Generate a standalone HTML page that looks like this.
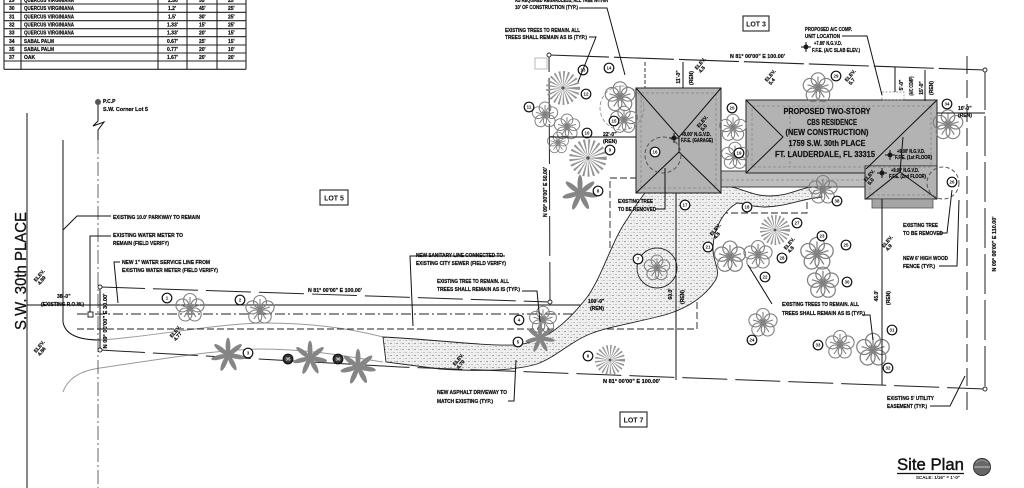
<!DOCTYPE html>
<html><head><meta charset="utf-8"><style>
html,body{margin:0;padding:0;background:#fff;width:1024px;height:488px;overflow:hidden}
svg{display:block}
.t{font-family:"Liberation Sans",sans-serif;font-weight:bold;font-size:5px;fill:#111;stroke:#111;stroke-width:0.22}
.tb{font-family:"Liberation Sans",sans-serif;font-weight:bold;font-size:8.5px;fill:#111;text-anchor:middle;stroke:#111;stroke-width:0.2}
.n{font-family:"Liberation Sans",sans-serif;font-weight:bold;font-size:4.4px;fill:#111;text-anchor:middle}
.nw{font-family:"Liberation Sans",sans-serif;font-weight:bold;font-size:4.4px;fill:#fff;text-anchor:middle}
.ln{stroke:#111;stroke-width:1;fill:none}
.gl{stroke:#999;stroke-width:1;fill:none}
</style></head><body>
<svg width="1024" height="488" viewBox="0 0 1024 488" xmlns="http://www.w3.org/2000/svg">
<defs>
<pattern id="st" width="6" height="6" patternUnits="userSpaceOnUse">
<rect width="6" height="6" fill="#f0f0f0"/>
<circle cx="1" cy="1.5" r="0.6" fill="#666"/>
<circle cx="4" cy="4.5" r="0.55" fill="#777"/>
<circle cx="4.6" cy="1.2" r="0.4" fill="#999"/>
<circle cx="1.8" cy="4.6" r="0.4" fill="#999"/>
</pattern>
<g id="oak" fill="none" stroke="#808080" stroke-width="1.1">
<circle cx="0" cy="-8" r="6.5"/><circle cx="7.6" cy="-2.6" r="6.5"/><circle cx="4.7" cy="6.5" r="6.5"/><circle cx="-4.7" cy="6.5" r="6.5"/><circle cx="-7.6" cy="-2.6" r="6.5"/>
<path d="M0,0L0,-11M0,0L10,-3M0,0L6,9M0,0L-6,9M0,0L-10,-3M-3,-4L3,4M3,-4L-3,4"/>
</g>
<g id="star">
<circle r="7.5" fill="none" stroke="#949494" stroke-width="15" stroke-dasharray="0.9 1.3"/>
<circle r="1.4" fill="#555"/>
</g>
<g id="palm" fill="#858585">
<ellipse cx="7.5" cy="0" rx="7.5" ry="2.1" transform="rotate(10)"/>
<ellipse cx="7.5" cy="0" rx="7.5" ry="2.1" transform="rotate(62)"/>
<ellipse cx="7.5" cy="0" rx="7.5" ry="2.1" transform="rotate(114)"/>
<ellipse cx="7.5" cy="0" rx="7.5" ry="2.1" transform="rotate(166)"/>
<ellipse cx="7.5" cy="0" rx="7.5" ry="2.1" transform="rotate(218)"/>
<ellipse cx="7.5" cy="0" rx="7.5" ry="2.1" transform="rotate(270)"/>
<ellipse cx="7.5" cy="0" rx="7.5" ry="2.1" transform="rotate(322)"/>
</g>
</defs>

<!-- TABLE -->
<g stroke="#222" stroke-width="1.1" fill="none">
<path d="M4,4H246M4,12.3H246M4,20.7H246M4,28.7H246M4,36.7H246M4,45H246M4,53H246M4,61H246M4,69.3H246"/>
<path d="M4,0V69.3M21,0V69.3M158,0V69.3M187,0V69.3M217,0V69.3M246,0V69.3"/>
</g>
<g class="t">
<text x="9" y="2">29</text><text x="24" y="2" textLength="50" lengthAdjust="spacingAndGlyphs">QUERCUS VIRGINIANA</text><text x="168" y="2">2.50'</text><text x="199" y="2">35'</text><text x="228" y="2">25'</text>
<text x="9" y="10">30</text><text x="24" y="10" textLength="50" lengthAdjust="spacingAndGlyphs">QUERCUS VIRGINIANA</text><text x="168" y="10">1.2'</text><text x="199" y="10">45'</text><text x="228" y="10">25'</text>
<text x="9" y="18.5">31</text><text x="24" y="18.5" textLength="50" lengthAdjust="spacingAndGlyphs">QUERCUS VIRGINIANA</text><text x="168" y="18.5">1.5'</text><text x="199" y="18.5">30'</text><text x="228" y="18.5">25'</text>
<text x="9" y="26.5">32</text><text x="24" y="26.5" textLength="50" lengthAdjust="spacingAndGlyphs">QUERCUS VIRGINIANA</text><text x="167" y="26.5">1.33'</text><text x="199" y="26.5">15'</text><text x="228" y="26.5">25'</text>
<text x="9" y="34.7">33</text><text x="24" y="34.7" textLength="50" lengthAdjust="spacingAndGlyphs">QUERCUS VIRGINIANA</text><text x="167" y="34.7">1.33'</text><text x="199" y="34.7">20'</text><text x="228" y="34.7">15'</text>
<text x="9" y="42.8">34</text><text x="24" y="42.8" textLength="30" lengthAdjust="spacingAndGlyphs">SABAL PALM</text><text x="167" y="42.8">0.67'</text><text x="199" y="42.8">25'</text><text x="228" y="42.8">15'</text>
<text x="9" y="51">35</text><text x="24" y="51" textLength="30" lengthAdjust="spacingAndGlyphs">SABAL PALM</text><text x="167" y="51">0.77'</text><text x="199" y="51">20'</text><text x="228" y="51">10'</text>
<text x="9" y="59">37</text><text x="24" y="59">OAK</text><text x="167" y="59">1.67'</text><text x="199" y="59">20'</text><text x="228" y="59">20'</text>
</g>

<!-- LEFT STREET -->
<text x="0" y="0" transform="translate(26,271) rotate(-90)" text-anchor="middle" font-family="Liberation Sans, sans-serif" font-size="15.5" fill="#111" stroke="#111" stroke-width="0.3" textLength="118" lengthAdjust="spacingAndGlyphs">S.W. 30th PLACE</text>
<path class="ln" d="M27,113V488"/>
<path class="ln" d="M63,140V322Q66,340 100,340"/>
<path class="gl" d="M100,340C150,337 220,323 265,323C320,323 360,331 383,337"/>
<path class="gl" d="M63,392Q70,372 100,368C150,361 210,350 260,349C310,349 350,357 383,362"/>
<path d="M98,140V488" stroke="#666" stroke-width="1" stroke-dasharray="14 3 2 3" fill="none"/>
<path class="ln" d="M98,104V121L93,126L104,122L98,130V140"/>
<circle cx="98" cy="102" r="3" fill="#555"/>
<text class="t" x="103" y="103">P.C.P</text>
<text class="t" x="103" y="111" textLength="45" lengthAdjust="spacingAndGlyphs">S.W. Corner Lot 5</text>

<!-- utility lines -->
<path class="ln" d="M27,305H643V291"/>
<path d="M77,314H610" stroke="#222" stroke-width="0.9" stroke-dasharray="10 3 2 3" fill="none"/>
<path d="M77,329H697V213H807V188" stroke="#222" stroke-width="0.9" stroke-dasharray="7 3" fill="none"/>
<path d="M637,178H610V313" stroke="#222" stroke-width="0.9" stroke-dasharray="7 3" fill="none"/>
<rect x="88" y="312" width="5" height="5" fill="#fff" stroke="#111" stroke-width="0.9"/>

<!-- DRIVEWAY -->
<path d="M383,337C430,339 480,346 515,345C545,343 568,322 588,296C604,272 612,240 628,218C634,208 640,199 645,193L721,193L721,186C740,186 750,196 770,196C790,196 800,187 820,186L822,197C800,199 790,206 765,207C750,207 744,203 737,203C725,210 714,226 713,247C712,262 722,270 715,281C705,296 690,307 668,314C640,322 610,326 590,334C570,342 556,357 537,364C510,372 470,371 440,369L386,362Z" fill="url(#st)" stroke="#222" stroke-width="0.9"/>

<!-- PROPERTY LINES -->
<path d="M100,287L550,302" stroke="#222" stroke-width="1" stroke-dasharray="45 8" fill="none"/>
<path d="M100,350L400,367L985,389" stroke="#222" stroke-width="1" stroke-dasharray="45 8" fill="none"/>
<path class="ln" d="M100,287V350"/>
<path d="M550,302L549,55" stroke="#222" stroke-width="1" stroke-dasharray="40 6" fill="none"/>
<path d="M549,55L985,70" stroke="#222" stroke-width="1.1" stroke-dasharray="60 5" fill="none"/>
<path d="M985,70V389" stroke="#222" stroke-width="1" stroke-dasharray="40 6" fill="none"/>
<path d="M967,56V412" stroke="#222" stroke-width="1" stroke-dasharray="18 6" fill="none"/>
<path d="M645,62V88" stroke="#222" stroke-width="0.9" stroke-dasharray="4 2" fill="none"/>
<g fill="#fff" stroke="#222" stroke-width="0.9">
<circle cx="100" cy="287" r="2"/><circle cx="100" cy="350" r="2"/><circle cx="550" cy="302" r="2"/><circle cx="549" cy="55" r="2"/><circle cx="985" cy="70" r="2"/><circle cx="985" cy="389" r="2"/>
</g>
<rect x="535" y="58" width="12" height="11" fill="#fff" stroke="#aaa" stroke-width="0.8"/>

<!-- BUILDINGS -->
<polygon points="699,187 714,171 866,171 866,187" fill="#bdbdbd" stroke="#444" stroke-width="1"/>
<path d="M716,180H862" stroke="#888" stroke-width="0.8" stroke-dasharray="3 2"/>
<rect x="636" y="88" width="85" height="105" fill="#b3b3b3" stroke="#333" stroke-width="1.1"/>
<rect x="641" y="93" width="75" height="95" fill="none" stroke="#888" stroke-width="0.8" stroke-dasharray="3 2"/>
<path class="ln" d="M636,88L679,137L721,88M636,193L679,152L721,193M679,137V152"/>
<rect x="746" y="100" width="191" height="73" fill="#b3b3b3" stroke="#333" stroke-width="1.1"/>
<rect x="865" y="166" width="72" height="33" fill="#b3b3b3" stroke="#333" stroke-width="1.1"/>
<path d="M866,167H936" stroke="#b3b3b3" stroke-width="1.6"/>
<rect x="872" y="199" width="61" height="9" fill="#a5a5a5" stroke="#555" stroke-width="0.8"/>
<rect x="752" y="106" width="179" height="61" fill="none" stroke="#888" stroke-width="0.8" stroke-dasharray="3 2"/>
<path d="M790,106V167" stroke="#888" stroke-width="0.8" stroke-dasharray="3 2"/>
<path d="M870,172V195H932" stroke="#888" stroke-width="0.8" stroke-dasharray="3 2" fill="none"/>
<path class="ln" d="M746,100L783,137L746,173M937,100L866,169M866,199L900,172L937,199M900,172L903,137"/>
<rect x="882" y="92" width="22" height="8" fill="none" stroke="#888" stroke-width="0.7" stroke-dasharray="2 1.5"/>

<text class="tb" x="827" y="114" textLength="87" lengthAdjust="spacingAndGlyphs">PROPOSED TWO-STORY</text>
<text class="tb" x="832" y="125" textLength="50" lengthAdjust="spacingAndGlyphs">CBS RESIDENCE</text>
<text class="tb" x="827" y="135" textLength="83" lengthAdjust="spacingAndGlyphs">(NEW CONSTRUCTION)</text>
<text class="tb" x="827" y="146" textLength="77" lengthAdjust="spacingAndGlyphs">1759 S.W. 30th PLACE</text>
<text class="tb" x="825" y="157" textLength="100" lengthAdjust="spacingAndGlyphs">FT. LAUDERDALE, FL 33315</text>

<!-- elevation symbols -->
<g fill="#222">
<circle cx="674" cy="138" r="2.5"/><circle cx="806" cy="47" r="2.5"/><circle cx="890" cy="155" r="2.5"/><circle cx="882" cy="173" r="2.5"/>
</g>
<path class="ln" d="M669,138H679M674,133V143M801,47H811M806,42V52M885,155H895M890,150V160M877,173H887M882,168V178"/>
<text class="t" x="681" y="136" textLength="30" lengthAdjust="spacingAndGlyphs">+8.00' N.G.V.D.</text>
<text class="t" x="681" y="142" textLength="32" lengthAdjust="spacingAndGlyphs">F.F.E. (GARAGE)</text>
<text class="t" x="814" y="45" textLength="28" lengthAdjust="spacingAndGlyphs">+7.80' N.G.V.D.</text>
<text class="t" x="812" y="52" textLength="48" lengthAdjust="spacingAndGlyphs">F.F.E. (A/C SLAB ELEV.)</text>
<text class="t" x="897" y="153" textLength="28" lengthAdjust="spacingAndGlyphs">+9.00' N.G.V.D.</text>
<text class="t" x="895" y="159" textLength="37" lengthAdjust="spacingAndGlyphs">F.F.E. (1st FLOOR)</text>
<text class="t" x="891" y="172" textLength="28" lengthAdjust="spacingAndGlyphs">+9.00' N.G.V.D.</text>
<text class="t" x="889" y="178" textLength="37" lengthAdjust="spacingAndGlyphs">F.F.E. (2nd FLOOR)</text>

<!-- TREES -->
<use href="#star" transform="translate(563,88) scale(1.13)"/>
<use href="#star" transform="translate(588,158) scale(1.25)"/>
<use href="#star" transform="translate(775,230) scale(1.0)"/>
<use href="#star" transform="translate(610,360) scale(1.0)"/>
<circle cx="622" cy="108" r="22" fill="none" stroke="#888" stroke-width="0.8" stroke-dasharray="4 2"/>
<use href="#oak" transform="translate(620,97) scale(1.05)"/>
<use href="#oak" transform="translate(624,120) scale(0.95)"/>
<use href="#oak" transform="translate(545,115) scale(0.9)"/>
<use href="#oak" transform="translate(567,127) scale(0.9)"/>
<use href="#oak" transform="translate(558,143) scale(0.75)"/>
<use href="#oak" transform="translate(733,128) scale(0.95)"/>
<use href="#oak" transform="translate(735,156) scale(0.95)"/>
<circle cx="663" cy="155" r="18" fill="none" stroke="#555" stroke-width="1" stroke-dasharray="4 2.5"/>
<use href="#oak" transform="translate(818,88) scale(1.05)"/>
<use href="#oak" transform="translate(948,125) scale(1.05)"/>
<circle cx="943" cy="183" r="16" fill="none" stroke="#555" stroke-width="1" stroke-dasharray="4 2.5"/>
<circle cx="657" cy="268" r="20" fill="none" stroke="#333" stroke-width="1"/>
<use href="#oak" transform="translate(657,268) scale(0.9)"/>
<use href="#oak" transform="translate(543,320) scale(0.95)"/>
<use href="#oak" transform="translate(190,308) scale(1.0)"/>
<use href="#oak" transform="translate(260,310) scale(1.0)"/>
<use href="#oak" transform="translate(730,257) scale(1.1)"/>
<use href="#oak" transform="translate(758,255) scale(1.0)"/>
<use href="#oak" transform="translate(817,254) scale(1.15)"/>
<use href="#oak" transform="translate(823,283) scale(1.1)"/>
<use href="#oak" transform="translate(763,323) scale(1.0)"/>
<use href="#oak" transform="translate(840,345) scale(1.0)"/>
<use href="#oak" transform="translate(873,350) scale(1.15)"/>
<use href="#oak" transform="translate(823,190) scale(1.0)"/>
<use href="#palm" transform="translate(580,193) scale(1.2)"/>
<use href="#palm" transform="translate(228,355) scale(1.15)"/>
<use href="#palm" transform="translate(310,358) scale(1.15)"/>
<use href="#palm" transform="translate(358,367) scale(1.2)"/>
<use href="#palm" transform="translate(540,338) scale(1.0)"/>

<!-- NUMBER CIRCLES -->
<g stroke="#111" stroke-width="1.2" fill="#fff">
<circle cx="167" cy="298" r="4.8"/><circle cx="240" cy="300" r="4.8"/><circle cx="248" cy="353" r="4.8"/>
<circle cx="519" cy="320" r="4.8"/><circle cx="518" cy="342" r="4.8"/><circle cx="588" cy="356" r="4.8"/><circle cx="638" cy="259" r="4.8"/>
<circle cx="598" cy="191" r="4.8"/><circle cx="610" cy="150" r="4.8"/><circle cx="587" cy="133" r="4.8"/><circle cx="529" cy="107" r="4.8"/>
<circle cx="586" cy="94" r="4.8"/><circle cx="583" cy="70" r="4.8"/><circle cx="609" cy="68" r="4.8"/><circle cx="614" cy="121" r="4.8"/>
<circle cx="655" cy="152" r="4.8"/><circle cx="685" cy="205" r="4.8"/><circle cx="747" cy="207" r="4.8"/><circle cx="739" cy="153" r="4.8"/>
<circle cx="732" cy="108" r="4.8"/><circle cx="708" cy="247" r="4.8"/><circle cx="765" cy="277" r="4.8"/><circle cx="822" cy="236" r="4.8"/>
<circle cx="752" cy="340" r="4.8"/><circle cx="846" cy="245" r="4.8"/><circle cx="952" cy="182" r="4.8"/><circle cx="797" cy="223" r="4.8"/>
<circle cx="782" cy="258" r="4.8"/><circle cx="836" cy="76" r="4.8"/><circle cx="847" cy="282" r="4.8"/><circle cx="892" cy="330" r="4.8"/>
<circle cx="888" cy="368" r="4.8"/><circle cx="818" cy="345" r="4.8"/><circle cx="947" cy="104" r="4.8"/><circle cx="837" cy="201" r="4.8"/>
</g>
<g stroke="#111" stroke-width="1.2" fill="#333">
<circle cx="288" cy="359" r="4.8"/><circle cx="338" cy="359" r="4.8"/>
</g>
<g class="n">
<text x="167" y="299.6">1</text><text x="240" y="301.6">2</text><text x="248" y="354.6">3</text>
<text x="519" y="321.6">4</text><text x="518" y="343.6">5</text><text x="588" y="357.6">6</text><text x="638" y="260.6">7</text>
<text x="598" y="192.6">8</text><text x="610" y="151.6">9</text><text x="587" y="134.6">10</text><text x="529" y="108.6">11</text>
<text x="586" y="95.6">12</text><text x="583" y="71.6">13</text><text x="609" y="69.6">14</text><text x="614" y="122.6">15</text>
<text x="655" y="153.6">16</text><text x="685" y="206.6">17</text><text x="747" y="208.6">18</text><text x="739" y="154.6">19</text>
<text x="732" y="109.6">20</text><text x="708" y="248.6">21</text><text x="765" y="278.6">22</text><text x="822" y="237.6">23</text>
<text x="752" y="341.6">24</text><text x="846" y="246.6">25</text><text x="952" y="183.6">26</text><text x="797" y="224.6">27</text>
<text x="782" y="259.6">28</text><text x="836" y="77.6">29</text><text x="847" y="283.6">30</text><text x="892" y="331.6">31</text>
<text x="888" y="369.6">32</text><text x="818" y="346.6">33</text><text x="947" y="105.6">34</text><text x="837" y="202.6">38</text>
</g>
<g class="nw"><text x="288" y="360.6">35</text><text x="338" y="360.6">36</text></g>

<!-- DIMENSIONS -->
<path class="ln" d="M676,193V380M882,199V385M549,137H636M937,113H985M683,62V88M925,70V101M895,67V92"/>
<g class="t">
<text x="603" y="136">22'-0"</text><text x="603" y="143">(REN)</text>
<text x="958" y="110">10'-0"</text><text x="958" y="117">(REN)</text>
<text x="588" y="303">100'-0"</text><text x="590" y="310">(REN)</text>
<text x="57" y="298">38'-0"</text>
<text x="41" y="306" textLength="43" lengthAdjust="spacingAndGlyphs">(EXISTING R.O.W.)</text>
<text x="308" y="292" textLength="54" lengthAdjust="spacingAndGlyphs">N 81° 00'00" E   100.00'</text>
<text x="603" y="383" textLength="57" lengthAdjust="spacingAndGlyphs">N 81° 00'00" E   100.00'</text>
<text x="730" y="58" textLength="55" lengthAdjust="spacingAndGlyphs">N 81° 00'00" E   100.00'</text>
</g>
<g class="t">
<text transform="translate(107,321) rotate(-90)" text-anchor="middle" textLength="55" lengthAdjust="spacingAndGlyphs">N 09° 00'00" E  30.00'</text>
<text transform="translate(547,192) rotate(-90)" text-anchor="middle" textLength="50" lengthAdjust="spacingAndGlyphs">N 09° 00'00" E  50.00'</text>
<text transform="translate(996,244) rotate(-90)" text-anchor="middle" textLength="55" lengthAdjust="spacingAndGlyphs">N 09° 00'00" E  110.00'</text>
<text transform="translate(672,294) rotate(-90)" text-anchor="middle">60.0'</text>
<text transform="translate(684,297) rotate(-90)" text-anchor="middle">(REN)</text>
<text transform="translate(878,296) rotate(-90)" text-anchor="middle">45.0'</text>
<text transform="translate(890,298) rotate(-90)" text-anchor="middle">(REN)</text>
<text transform="translate(680,77) rotate(-90)" text-anchor="middle">11'-0"</text>
<text transform="translate(693,78) rotate(-90)" text-anchor="middle">(REN)</text>
<text transform="translate(903,85) rotate(-90)" text-anchor="middle">5'-0"</text>
<text transform="translate(913,86) rotate(-90)" text-anchor="middle" textLength="19" lengthAdjust="spacingAndGlyphs">(A/C COMP)</text>
<text transform="translate(923,88) rotate(-90)" text-anchor="middle">15'-0"</text>
<text transform="translate(933,88) rotate(-90)" text-anchor="middle">(REN)</text>
</g>
<!-- elev labels -->
<g class="t" font-size="4.5">
<text transform="translate(36,282) rotate(-50)">ELEV.<tspan x="0" dy="5">4.89</tspan></text>
<text transform="translate(36,353) rotate(-50)">ELEV.<tspan x="0" dy="5">4.86</tspan></text>
<text transform="translate(172,338) rotate(-50)">ELEV.<tspan x="0" dy="5">4.77</tspan></text>
<text transform="translate(455,366) rotate(-50)">ELEV.<tspan x="0" dy="5">4.70</tspan></text>
<text transform="translate(697,70) rotate(-50)">ELEV.<tspan x="0" dy="5">4.8</tspan></text>
<text transform="translate(767,82) rotate(-50)">ELEV.<tspan x="0" dy="5">5.4</tspan></text>
<text transform="translate(847,82) rotate(-50)">ELEV.<tspan x="0" dy="5">5.7</tspan></text>
<text transform="translate(699,128) rotate(-50)">ELEV.<tspan x="0" dy="5">5.0</tspan></text>
<text transform="translate(866,182) rotate(-50)">ELEV.<tspan x="0" dy="5">5.0</tspan></text>
<text transform="translate(712,236) rotate(-50)">ELEV.<tspan x="0" dy="5">4.8</tspan></text>
<text transform="translate(786,250) rotate(-50)">ELEV.<tspan x="0" dy="5">4.8</tspan></text>
<text transform="translate(884,248) rotate(-50)">ELEV.<tspan x="0" dy="5">4.9</tspan></text>
</g>

<!-- LOT LABELS -->
<g fill="#fff" stroke="#222" stroke-width="1.1">
<rect x="743" y="16" width="26" height="15"/><rect x="320" y="190" width="28" height="15"/><rect x="620" y="412" width="27" height="15"/>
</g>
<g font-family="Liberation Sans, sans-serif" font-weight="bold" font-size="7" fill="#111" text-anchor="middle">
<text x="756" y="26.5">LOT 3</text><text x="334" y="200.5">LOT 5</text><text x="633.5" y="422.5">LOT 7</text>
</g>

<!-- ANNOTATIONS & LEADERS -->
<g class="t">
<text x="515" y="2" textLength="93" lengthAdjust="spacingAndGlyphs">AS REQUIRED REGARDLESS, ALL TREE WITHIN</text>
<text x="515" y="9" textLength="63" lengthAdjust="spacingAndGlyphs">10' OF CONSTRUCTION (TYP.)</text>
<text x="505" y="32" textLength="75" lengthAdjust="spacingAndGlyphs">EXISTING TREES TO REMAIN. ALL</text>
<text x="505" y="39" textLength="82" lengthAdjust="spacingAndGlyphs">TREES SHALL REMAIN AS IS (TYP.)</text>
<text x="805" y="31" textLength="47" lengthAdjust="spacingAndGlyphs">PROPOSED A/C COMP.</text>
<text x="805" y="38" textLength="35" lengthAdjust="spacingAndGlyphs">UNIT LOCATION</text>
<text x="113" y="219" textLength="87" lengthAdjust="spacingAndGlyphs">EXISTING 10.0' PARKWAY TO REMAIN</text>
<text x="113" y="237" textLength="70" lengthAdjust="spacingAndGlyphs">EXISTING WATER METER TO</text>
<text x="113" y="245" textLength="56" lengthAdjust="spacingAndGlyphs">REMAIN (FIELD VERIFY)</text>
<text x="122" y="264" textLength="88" lengthAdjust="spacingAndGlyphs">NEW 1" WATER SERVICE LINE FROM</text>
<text x="122" y="272" textLength="96" lengthAdjust="spacingAndGlyphs">EXISTING WATER METER (FIELD VERIFY)</text>
<text x="416" y="257" textLength="87" lengthAdjust="spacingAndGlyphs">NEW SANITARY LINE CONNECTED TO</text>
<text x="416" y="265" textLength="90" lengthAdjust="spacingAndGlyphs">EXISTING CITY SEWER (FIELD VERIFY)</text>
<text x="437" y="283" textLength="72" lengthAdjust="spacingAndGlyphs">EXISTING TREE TO REMAIN. ALL</text>
<text x="437" y="291" textLength="83" lengthAdjust="spacingAndGlyphs">TREES SHALL REMAIN AS IS (TYP.)</text>
<text x="437" y="394" textLength="70" lengthAdjust="spacingAndGlyphs">NEW ASPHALT DRIVEWAY TO</text>
<text x="437" y="403" textLength="56" lengthAdjust="spacingAndGlyphs">MATCH EXISTING (TYP.)</text>
<text x="618" y="203" textLength="35" lengthAdjust="spacingAndGlyphs">EXISTING TREE</text>
<text x="618" y="211" textLength="38" lengthAdjust="spacingAndGlyphs">TO BE REMOVED</text>
<text x="782" y="306" textLength="77" lengthAdjust="spacingAndGlyphs">EXISTING TREES TO REMAIN. ALL</text>
<text x="782" y="315" textLength="83" lengthAdjust="spacingAndGlyphs">TREES SHALL REMAIN AS IS (TYP.)</text>
<text x="903" y="227" textLength="35" lengthAdjust="spacingAndGlyphs">EXISTING TREE</text>
<text x="903" y="235" textLength="40" lengthAdjust="spacingAndGlyphs">TO BE REMOVED</text>
<text x="903" y="260" textLength="45" lengthAdjust="spacingAndGlyphs">NEW 6' HIGH WOOD</text>
<text x="903" y="268" textLength="32" lengthAdjust="spacingAndGlyphs">FENCE (TYP.)</text>
<text x="887" y="400" textLength="47" lengthAdjust="spacingAndGlyphs">EXISTING 5' UTILITY</text>
<text x="887" y="408" textLength="40" lengthAdjust="spacingAndGlyphs">EASEMENT (TYP.)</text>
</g>
<g class="ln" stroke-width="0.9">
<path d="M579,8H607L625,75"/>
<path d="M589,37H596L578,82"/>
<path d="M842,36H867L882,95"/>
<path d="M63,230L77,216H111"/>
<path d="M90,312V236H111"/>
<path d="M120,262H114L118,303"/>
<path d="M505,256H410L413,326"/>
<path d="M522,291H537L540,322"/>
<path d="M508,401H514L516,360"/>
<path d="M655,209H665V168"/>
<path d="M748,265L772,304"/>
<path d="M862,315H870L873,340"/>
<path d="M939,233H947L952,190"/>
<path d="M939,266H957L959,200"/>
<path d="M930,406H950L965,376"/>
</g>

<!-- TITLE -->
<text x="897" y="470" font-family="Liberation Sans, sans-serif" font-size="17" fill="#111" stroke="#111" stroke-width="0.4" textLength="67" lengthAdjust="spacingAndGlyphs">Site Plan</text>
<path d="M897,473.5H964" stroke="#111" stroke-width="1.2"/>
<text x="916" y="479" font-family="Liberation Sans, sans-serif" font-weight="bold" font-size="4.5" fill="#111" textLength="44" lengthAdjust="spacingAndGlyphs">SCALE: 1/16" = 1'-0"</text>
<circle cx="982" cy="467" r="8.5" fill="#666" stroke="#333" stroke-width="1"/>
<path d="M974,467H990" stroke="#ddd" stroke-width="0.8"/>
<path d="M976,463A8,8 0 0 1 988,463" stroke="#888" stroke-width="1.5" fill="none"/>
</svg>
</body></html>
